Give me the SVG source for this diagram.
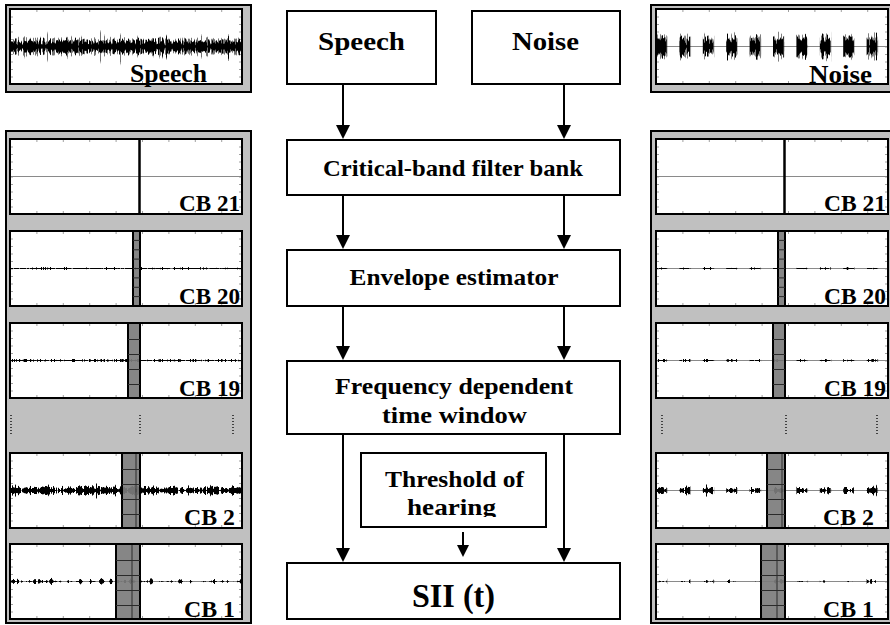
<svg xmlns="http://www.w3.org/2000/svg" xmlns:xlink="http://www.w3.org/1999/xlink" width="890" height="625" viewBox="0 0 890 625">
  <style>
    .frame { fill: #c0c0c0; stroke: #000; stroke-width: 2; }
    .plot { fill: none; stroke: #000; stroke-width: 2; }
    .box { fill: #fff; stroke: #000; stroke-width: 2; }
    .bar { fill: #7c7c7c; fill-opacity: 0.92; stroke: #000; stroke-width: 2; }
    .grid { stroke: #2a2a2a; stroke-width: 1; fill: none; }
    .sep { stroke: #000; stroke-width: 2.5; }
    .dots { stroke: #222; stroke-width: 1.6; stroke-dasharray: 1 2; }
    .lbl { font-family: "Liberation Serif", "Times New Roman", serif; font-weight: bold; fill: #000; }
    .c26 { font-size: 26px; text-anchor: middle; }
    .c23 { font-size: 23px; text-anchor: middle; }
    .c33 { font-size: 33px; text-anchor: middle; }
    .p25 { font-size: 25px; text-anchor: middle; }
    .cb { font-size: 23px; }
    .conn line { stroke: #000; stroke-width: 2; }
  </style>
  <defs>
    <!-- arrowheads -->
    <marker id="ah" markerUnits="userSpaceOnUse" viewBox="0 0 14 14" markerWidth="14" markerHeight="14" refX="8" refY="7" orient="auto">
      <path d="M0 0L14 7L0 14z" fill="#000"/>
    </marker>
    <marker id="ahs" markerUnits="userSpaceOnUse" viewBox="0 0 12 12" markerWidth="12" markerHeight="12" refX="6" refY="6" orient="auto">
      <path d="M0 0L12 6L0 12z" fill="#000"/>
    </marker>

    <!-- vertical envelopes: dark centre = low threshold, steep shoulders leave room for spikes -->
    <linearGradient id="envSpeech" x1="0" y1="0" x2="0" y2="1">
      <stop offset="0" stop-color="#fff"/><stop offset="0.3" stop-color="#b0b0b0"/><stop offset="0.5" stop-color="#303030"/><stop offset="0.7" stop-color="#b0b0b0"/><stop offset="1" stop-color="#fff"/>
    </linearGradient>
    <linearGradient id="envBurst" x1="0" y1="0" x2="0" y2="1">
      <stop offset="0" stop-color="#fff"/><stop offset="0.2" stop-color="#a0a0a0"/><stop offset="0.5" stop-color="#1a1a1a"/><stop offset="0.8" stop-color="#a0a0a0"/><stop offset="1" stop-color="#fff"/>
    </linearGradient>
    <linearGradient id="envFine" x1="0" y1="0" x2="0" y2="1">
      <stop offset="0" stop-color="#fff"/><stop offset="0.5" stop-color="#404040"/><stop offset="1" stop-color="#fff"/>
    </linearGradient>
    <linearGradient id="envBlob" x1="0" y1="0" x2="0" y2="1">
      <stop offset="0" stop-color="#fff"/><stop offset="0.5" stop-color="#707070"/><stop offset="1" stop-color="#fff"/>
    </linearGradient>

    <!-- waveform generators: noise along x compared with the envelope along y -->
    <filter id="wSpeech" x="0" y="0" width="1" height="1" color-interpolation-filters="sRGB">
      <feTurbulence type="fractalNoise" baseFrequency="0.6 0.003" numOctaves="3" seed="4" result="n"/>
      <feColorMatrix in="n" type="matrix" values="0 0 0 0 0 0 0 0 0 0 0 0 0 0 0 1 0 0 0 0" result="na"/>
      <feColorMatrix in="SourceGraphic" type="matrix" values="0 0 0 0 0 0 0 0 0 0 0 0 0 0 0 1 0 0 0 0" result="ga"/>
      <feComposite in="na" in2="ga" operator="arithmetic" k1="0" k2="1" k3="-1" k4="0" result="d"/>
      <feComponentTransfer in="d"><feFuncA type="linear" slope="14" intercept="0"/></feComponentTransfer>
    </filter>
    <filter id="wSpeechG" x="0" y="0" width="1" height="1" color-interpolation-filters="sRGB">
      <feTurbulence type="fractalNoise" baseFrequency="0.7 0.003" numOctaves="3" seed="11" result="n"/>
      <feColorMatrix in="n" type="matrix" values="0 0 0 0 0 0 0 0 0 0 0 0 0 0 0 1 0 0 0 0" result="na"/>
      <feColorMatrix in="SourceGraphic" type="matrix" values="0 0 0 0 0 0 0 0 0 0 0 0 0 0 0 1 0 0 0 0" result="ga"/>
      <feComposite in="na" in2="ga" operator="arithmetic" k1="0" k2="1" k3="-1" k4="0" result="d"/>
      <feComponentTransfer in="d"><feFuncA type="linear" slope="14" intercept="0"/></feComponentTransfer>
    </filter>
    <filter id="wBurst" x="0" y="0" width="1" height="1" color-interpolation-filters="sRGB">
      <feTurbulence type="fractalNoise" baseFrequency="0.55 0.003" numOctaves="3" seed="2" result="n"/>
      <feColorMatrix in="n" type="matrix" values="0 0 0 0 0 0 0 0 0 0 0 0 0 0 0 1 0 0 0 0" result="na"/>
      <feColorMatrix in="SourceGraphic" type="matrix" values="0 0 0 0 0 0 0 0 0 0 0 0 0 0 0 1 0 0 0 0" result="ga"/>
      <feComposite in="na" in2="ga" operator="arithmetic" k1="0" k2="1" k3="-1" k4="0" result="d"/>
      <feComponentTransfer in="d"><feFuncA type="linear" slope="14" intercept="0"/></feComponentTransfer>
    </filter>
    <filter id="wFine" x="0" y="0" width="1" height="1" color-interpolation-filters="sRGB">
      <feTurbulence type="fractalNoise" baseFrequency="0.9 0.01" numOctaves="2" seed="5" result="n"/>
      <feColorMatrix in="n" type="matrix" values="0 0 0 0 0 0 0 0 0 0 0 0 0 0 0 1 0 0 0 0" result="na"/>
      <feColorMatrix in="SourceGraphic" type="matrix" values="0 0 0 0 0 0 0 0 0 0 0 0 0 0 0 1 0 0 0 0" result="ga"/>
      <feComposite in="na" in2="ga" operator="arithmetic" k1="0" k2="1" k3="-1" k4="0" result="d"/>
      <feComponentTransfer in="d"><feFuncA type="linear" slope="10" intercept="0"/></feComponentTransfer>
    </filter>
    <filter id="wBlob" x="0" y="0" width="1" height="1" color-interpolation-filters="sRGB">
      <feTurbulence type="fractalNoise" baseFrequency="0.3 0.01" numOctaves="2" seed="7" result="n"/>
      <feColorMatrix in="n" type="matrix" values="0 0 0 0 0 0 0 0 0 0 0 0 0 0 0 1 0 0 0 0" result="na"/>
      <feColorMatrix in="SourceGraphic" type="matrix" values="0 0 0 0 0 0 0 0 0 0 0 0 0 0 0 1 0 0 0 0" result="ga"/>
      <feComposite in="na" in2="ga" operator="arithmetic" k1="0" k2="1" k3="-1" k4="0" result="d"/>
      <feComponentTransfer in="d"><feFuncA type="linear" slope="14" intercept="0"/></feComponentTransfer>
    </filter>

    <!-- periodic gating for the burst-like masker -->
    <pattern id="burstPat" patternUnits="userSpaceOnUse" x="656" y="0" width="23.4" height="625">
      <rect x="0" y="0" width="11" height="625" fill="#fff"/>
    </pattern>
    <mask id="burstMask" maskUnits="userSpaceOnUse" x="650" y="0" width="240" height="625">
      <rect x="650" y="0" width="240" height="625" fill="url(#burstPat)"/>
    </mask>

    <!-- plot area: white field, tick marks and zero axis (232 x 75) -->
    <g id="plotBg">
      <rect width="232" height="75" fill="#fff"/>
      <path d="M0 1.5H232M0 73.5H232" stroke="#a0a0a0" stroke-width="3" stroke-dasharray="1 25.4"/>
      <path d="M1.5 0V75M230.5 0V75" stroke="#a0a0a0" stroke-width="3" stroke-dasharray="1 6.5"/>
      <path d="M0 37.5H232" stroke="#8a8a8a" stroke-width="1"/>
    </g>

    <clipPath id="thrClip"><rect x="361" y="453" width="185" height="64"/></clipPath>
  </defs>

  <!-- speech waveform (top left) -->
  <g id="speech-panel">
    <rect class="frame" x="6" y="5" width="245" height="87"/>
    <use href="#plotBg" x="10" y="9"/>
    <rect x="11" y="20.5" width="230" height="52" fill="url(#envSpeech)" filter="url(#wSpeechG)" opacity="0.55"/>
    <rect x="11" y="23.5" width="230" height="46" fill="url(#envSpeech)" filter="url(#wSpeech)"/>
    <rect class="plot" x="10" y="9" width="232" height="75"/>
    <text class="lbl p25" x="168.5" y="82" textLength="77" lengthAdjust="spacingAndGlyphs">Speech</text>
  </g>

  <!-- masker waveform (top right) -->
  <g id="noise-panel">
    <rect class="frame" x="651" y="5" width="250" height="87"/>
    <use href="#plotBg" x="656" y="9"/>
    <g mask="url(#burstMask)">
      <rect x="657" y="25.5" width="230" height="42" fill="url(#envBurst)" filter="url(#wSpeechG)" opacity="0.5"/>
      <rect x="657" y="28.5" width="230" height="36" fill="url(#envBurst)" filter="url(#wBurst)"/>
    </g>
    <rect class="plot" x="656" y="9" width="232" height="75"/>
    <text class="lbl p25" x="840.5" y="83" textLength="63" lengthAdjust="spacingAndGlyphs">Noise</text>
  </g>

  <!-- speech critical-band signals -->
  <g id="speech-bands">
    <rect class="frame" x="6" y="131" width="245" height="492"/>

    <g id="speech-cb21">
      <use href="#plotBg" x="10" y="139"/>
      <line class="sep" x1="139.5" y1="139" x2="139.5" y2="214"/>
      <rect class="plot" x="10" y="139" width="232" height="75"/>
      <text class="lbl cb" x="179" y="211" textLength="61" lengthAdjust="spacingAndGlyphs">CB 21</text>
    </g>

    <g id="speech-cb20">
      <use href="#plotBg" x="10" y="231"/>
      <rect x="11" y="266.5" width="230" height="4" fill="url(#envFine)" filter="url(#wFine)"/>
      <rect class="bar" x="133" y="231" width="7" height="75"/>
      <path class="grid" d="M133 240.4h7M133 249.8h7M133 259.1h7M133 268.5h7M133 277.9h7M133 287.3h7M133 296.6h7"/>
      <rect class="plot" x="10" y="231" width="232" height="75"/>
      <text class="lbl cb" x="179" y="304" textLength="61" lengthAdjust="spacingAndGlyphs">CB 20</text>
    </g>

    <g id="speech-cb19">
      <use href="#plotBg" x="10" y="323"/>
      <rect x="11" y="358" width="230" height="5" fill="url(#envFine)" filter="url(#wFine)"/>
      <rect class="bar" x="128" y="323" width="12" height="75"/>
      <path class="grid" d="M128 339.5h12M128 354.5h12M128 369.5h12M128 384.5h12"/>
      <rect class="plot" x="10" y="323" width="232" height="75"/>
      <text class="lbl cb" x="179" y="396" textLength="61" lengthAdjust="spacingAndGlyphs">CB 19</text>
    </g>

    <line class="dots" x1="11" y1="415" x2="11" y2="434"/>
    <line class="dots" x1="140" y1="415" x2="140" y2="434"/>
    <line class="dots" x1="233" y1="415" x2="233" y2="434"/>

    <g id="speech-cb2">
      <use href="#plotBg" x="10" y="453"/>
      <rect x="11" y="477.5" width="230" height="26" fill="url(#envSpeech)" filter="url(#wSpeech)"/>
      <rect class="bar" x="122" y="453" width="18" height="75"/>
      <path class="grid" d="M122 469.5h18M122 484.5h18M122 499.5h18M122 514.5h18M136 453v75"/>
      <rect class="plot" x="10" y="453" width="232" height="75"/>
      <text class="lbl cb" x="184" y="525" textLength="51" lengthAdjust="spacingAndGlyphs">CB 2</text>
    </g>

    <g id="speech-cb1">
      <use href="#plotBg" x="10" y="544"/>
      <rect x="11" y="575.5" width="230" height="12" fill="url(#envBlob)" filter="url(#wBlob)"/>
      <rect class="bar" x="116" y="544" width="24" height="75"/>
      <path class="grid" d="M116 560.5h24M116 575.5h24M116 590.5h24M116 605.5h24M132 544v75"/>
      <rect class="plot" x="10" y="544" width="232" height="75"/>
      <text class="lbl cb" x="184" y="617" textLength="51" lengthAdjust="spacingAndGlyphs">CB 1</text>
    </g>
  </g>

  <!-- masker critical-band signals -->
  <g id="noise-bands">
    <rect class="frame" x="651" y="131" width="250" height="492"/>

    <g id="noise-cb21">
      <use href="#plotBg" x="656" y="139"/>
      <line class="sep" x1="784.5" y1="139" x2="784.5" y2="214"/>
      <rect class="plot" x="656" y="139" width="232" height="75"/>
      <text class="lbl cb" x="824" y="211" textLength="62" lengthAdjust="spacingAndGlyphs">CB 21</text>
    </g>

    <g id="noise-cb20">
      <use href="#plotBg" x="656" y="231"/>
      <g mask="url(#burstMask)">
        <rect x="657" y="266.5" width="230" height="4" fill="url(#envFine)" filter="url(#wFine)"/>
      </g>
      <rect class="bar" x="778" y="231" width="7" height="75"/>
      <path class="grid" d="M778 240.4h7M778 249.8h7M778 259.1h7M778 268.5h7M778 277.9h7M778 287.3h7M778 296.6h7"/>
      <rect class="plot" x="656" y="231" width="232" height="75"/>
      <text class="lbl cb" x="824" y="304" textLength="62" lengthAdjust="spacingAndGlyphs">CB 20</text>
    </g>

    <g id="noise-cb19">
      <use href="#plotBg" x="656" y="323"/>
      <g mask="url(#burstMask)">
        <rect x="657" y="358" width="230" height="5" fill="url(#envFine)" filter="url(#wFine)"/>
      </g>
      <rect class="bar" x="773" y="323" width="12" height="75"/>
      <path class="grid" d="M773 339.5h12M773 354.5h12M773 369.5h12M773 384.5h12"/>
      <rect class="plot" x="656" y="323" width="232" height="75"/>
      <text class="lbl cb" x="824" y="396" textLength="62" lengthAdjust="spacingAndGlyphs">CB 19</text>
    </g>

    <line class="dots" x1="662" y1="415" x2="662" y2="434"/>
    <line class="dots" x1="786" y1="415" x2="786" y2="434"/>
    <line class="dots" x1="877" y1="415" x2="877" y2="434"/>

    <g id="noise-cb2">
      <use href="#plotBg" x="656" y="453"/>
      <g mask="url(#burstMask)">
        <rect x="657" y="480.5" width="230" height="20" fill="url(#envSpeech)" filter="url(#wBurst)"/>
      </g>
      <rect class="bar" x="767" y="453" width="18" height="75"/>
      <path class="grid" d="M767 469.5h18M767 484.5h18M767 499.5h18M767 514.5h18M782 453v75"/>
      <rect class="plot" x="656" y="453" width="232" height="75"/>
      <text class="lbl cb" x="823" y="525" textLength="51" lengthAdjust="spacingAndGlyphs">CB 2</text>
    </g>

    <g id="noise-cb1">
      <use href="#plotBg" x="656" y="544"/>
      <g mask="url(#burstMask)">
        <rect x="657" y="575.5" width="230" height="12" fill="url(#envBlob)" filter="url(#wBlob)"/>
      </g>
      <rect class="bar" x="761" y="544" width="24" height="75"/>
      <path class="grid" d="M761 560.5h24M761 575.5h24M761 590.5h24M761 605.5h24M777 544v75"/>
      <rect class="plot" x="656" y="544" width="232" height="75"/>
      <text class="lbl cb" x="823" y="617" textLength="51" lengthAdjust="spacingAndGlyphs">CB 1</text>
    </g>
  </g>

  <!-- processing chain -->
  <g id="box-speech">
    <rect class="box" x="287" y="11" width="149" height="73"/>
    <text class="lbl c26" x="361.5" y="50" textLength="87" lengthAdjust="spacingAndGlyphs">Speech</text>
  </g>
  <g id="box-noise">
    <rect class="box" x="472" y="11" width="148" height="73"/>
    <text class="lbl c26" x="545.5" y="50" textLength="67" lengthAdjust="spacingAndGlyphs">Noise</text>
  </g>
  <g id="box-filterbank">
    <rect class="box" x="287" y="140" width="333" height="55"/>
    <text class="lbl c23" x="453" y="176" textLength="260" lengthAdjust="spacingAndGlyphs">Critical-band filter bank</text>
  </g>
  <g id="box-envelope">
    <rect class="box" x="287" y="250" width="333" height="56"/>
    <text class="lbl c23" x="454" y="285" textLength="209" lengthAdjust="spacingAndGlyphs">Envelope estimator</text>
  </g>
  <g id="box-window">
    <rect class="box" x="287" y="361" width="333" height="73"/>
    <text class="lbl c23" x="454" y="394" textLength="238" lengthAdjust="spacingAndGlyphs">Frequency dependent</text>
    <text class="lbl c23" x="454.5" y="423" textLength="145" lengthAdjust="spacingAndGlyphs">time window</text>
  </g>
  <g id="box-threshold">
    <rect class="box" x="361" y="453" width="185" height="74"/>
    <g clip-path="url(#thrClip)">
      <text class="lbl c23" x="454.5" y="487" textLength="139" lengthAdjust="spacingAndGlyphs">Threshold of</text>
      <text class="lbl c23" x="451.5" y="515" textLength="89" lengthAdjust="spacingAndGlyphs">hearing</text>
    </g>
  </g>
  <g id="box-sii">
    <rect class="box" x="287" y="563" width="333" height="56"/>
    <text class="lbl c33" x="453.5" y="607" textLength="83" lengthAdjust="spacingAndGlyphs">SII (t)</text>
  </g>

  <g id="connectors" class="conn">
    <line x1="343" y1="84" x2="343" y2="133" marker-end="url(#ah)"/>
    <line x1="564" y1="84" x2="564" y2="133" marker-end="url(#ah)"/>
    <line x1="343" y1="195" x2="343" y2="243" marker-end="url(#ah)"/>
    <line x1="564" y1="195" x2="564" y2="243" marker-end="url(#ah)"/>
    <line x1="343" y1="306" x2="343" y2="354" marker-end="url(#ah)"/>
    <line x1="564" y1="306" x2="564" y2="354" marker-end="url(#ah)"/>
    <line x1="343" y1="434" x2="343" y2="556" marker-end="url(#ah)"/>
    <line x1="564" y1="434" x2="564" y2="556" marker-end="url(#ah)"/>
    <line x1="463" y1="532" x2="463" y2="551" marker-end="url(#ahs)"/>
  </g>
</svg>
